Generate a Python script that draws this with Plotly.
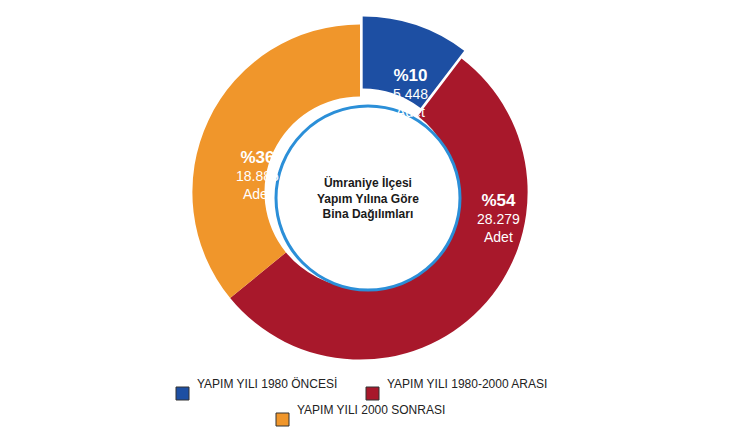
import plotly.graph_objects as go

labels = ["YAPIM YILI 1980 ÖNCESİ", "YAPIM YILI 1980-2000 ARASI", "YAPIM YILI 2000 SONRASI"]
counts = [5448, 28279, 18885]
pct_text = ["%10", "%54", "%36"]
count_text = ["5.448", "28.279", "18.885"]
colors = ["#1d4fa3", "#a8182b", "#f0962b"]

W, H = 741, 430
def px(x): return x / W
def py(y): return 1 - y / H

fig = go.Figure(go.Pie(
    values=counts, labels=labels, sort=False, direction="clockwise", rotation=0,
    hole=0.57, textinfo="none", hoverinfo="label+value",
    marker=dict(colors=colors, line=dict(color="white", width=0)),
    pull=[0.05, 0, 0],
    domain=dict(x=[px(176), px(528)], y=[py(360), py(8)]),
    showlegend=False,
))

shapes = [dict(type="circle", xref="paper", yref="paper",
               x0=px(268), x1=px(452), y0=py(282), y1=py(98),
               fillcolor="white", line=dict(color="#2b8fd8", width=3))]
ann = [dict(x=px(360), y=py(190), xref="paper", yref="paper", showarrow=False,
            text="<b>Ümraniye İlçesi<br>Yapım Yılına Göre<br>Bina Dağılımları</b>",
            font=dict(size=12, color="#1a1a1a", family="Arial"))]

pos = [(402, 56), (490, 210), (226, 138)]
for (x, y), p, c in zip(pos, pct_text, count_text):
    ann.append(dict(x=px(x), y=py(y), xref="paper", yref="paper", showarrow=False,
                    text=f"<b><span style='font-size:17px'>{p}</span></b><br>{c}<br>Adet",
                    align="center",
                    font=dict(size=14, color="white", family="Arial")))

legpos = [(168, 385), (358, 385), (268, 411)]
for (x, y), lab, col in zip(legpos, labels, colors):
    shapes.append(dict(type="rect", xref="paper", yref="paper",
                       x0=px(x), x1=px(x + 13), y0=py(y + 7), y1=py(y - 6),
                       fillcolor=col, line=dict(color="#333", width=1)))
    ann.append(dict(x=px(x + 19), y=py(y), xref="paper", yref="paper", xanchor="left",
                    showarrow=False, text=lab, font=dict(size=12, color="#222", family="Arial")))

fig.update_layout(width=W, height=H, margin=dict(l=0, r=0, t=0, b=0),
                  paper_bgcolor="white", plot_bgcolor="white",
                  shapes=shapes, annotations=ann)
fig.write_html("out.html")
